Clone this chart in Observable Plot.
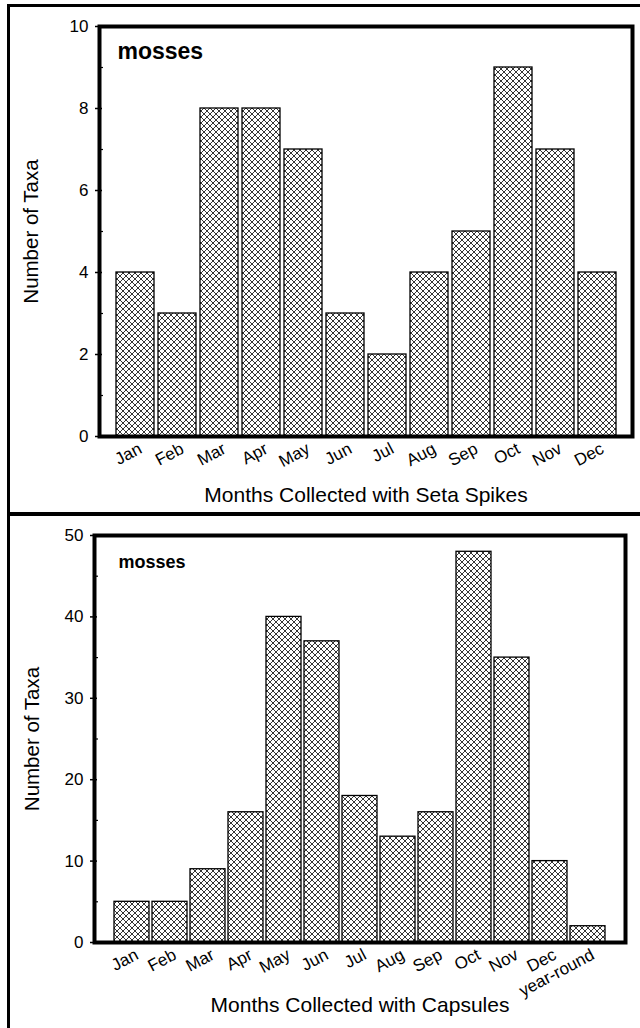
<!DOCTYPE html>
<html>
<head>
<meta charset="utf-8">
<script src="https://cdn.jsdelivr.net/npm/d3@7"></script>
<script src="https://cdn.jsdelivr.net/npm/@observablehq/plot@0.6"></script>
<style>
  html, body { margin: 0; padding: 0; background: #fff; }
  #page { position: relative; width: 640px; height: 1028px; overflow: hidden; background: #fff;
          font-family: "Liberation Sans", Arial, Helvetica, sans-serif; }
  .chart { position: absolute; left: 0; }
  .line { position: absolute; background: #000; }
</style>
</head>
<body>
<div id="page">
  <div id="top" class="chart" style="top:0"></div>
  <div id="bottom" class="chart" style="top:514px"></div>
  <div class="line" style="left:7px; top:4px; width:633px; height:3px"></div>
  <div class="line" style="left:7px; top:4px; width:3px; height:1024px"></div>
  <div class="line" style="left:7px; top:512px; width:633px; height:4px"></div>
</div>
<script>
// ---- data ----
const monthsTop = ["Jan", "Feb", "Mar", "Apr", "May", "Jun", "Jul", "Aug", "Sep", "Oct", "Nov", "Dec"];
const taxaTop = [4, 3, 8, 8, 7, 3, 2, 4, 5, 9, 7, 4];
const yTicksTop = [0, 2, 4, 6, 8, 10];
const yMinorTop = [1, 3, 5, 7, 9];

const categoriesBottom = ["Jan", "Feb", "Mar", "Apr", "May", "Jun", "Jul", "Aug", "Sep", "Oct", "Nov", "Dec", "year-round"];
const taxaBottom = [5, 5, 9, 16, 40, 37, 18, 13, 16, 48, 35, 10, 2];
const yTicksBottom = [0, 10, 20, 30, 40, 50];
const yMinorBottom = [5, 15, 25, 35, 45];

const groupLabel = "mosses";
const yTitle = "Number of Taxa";
const xTitleTop = "Months Collected with Seta Spikes";
const xTitleBottom = "Months Collected with Capsules";

const FONT = '"Liberation Sans", Arial, Helvetica, sans-serif';

function addPattern(svg, id) {
  const defs = d3.select(svg).insert("defs", ":first-child");
  const p = defs.append("pattern")
    .attr("id", id)
    .attr("patternUnits", "userSpaceOnUse")
    .attr("width", 6).attr("height", 6);
  p.append("rect").attr("width", 6).attr("height", 6).attr("fill", "#fff");
  p.append("path")
    .attr("d", "M-1,-1L7,7M7,-1L-1,7")
    .attr("stroke", "#111").attr("stroke-width", 0.85).attr("fill", "none");
}

function makeChart(o) {
  const data = o.cats.map((c, i) => ({cat: c, value: o.vals[i]}));
  const svg = Plot.plot({
    width: 640,
    height: 514,
    marginLeft: o.ml, marginRight: o.mr, marginTop: o.mt, marginBottom: o.mb,
    style: {fontFamily: FONT, color: "#000", background: "transparent", overflow: "visible"},
    x: {domain: o.cats, paddingInner: o.pi, paddingOuter: o.po, insetLeft: o.il, insetRight: o.ir, axis: null},
    y: {domain: [0, o.yMax], axis: null},
    marks: [
      Plot.barY(data, {x: "cat", y: "value", fill: `url(#${o.pid})`, stroke: "#000", strokeWidth: 1.3}),
      Plot.frame({stroke: "#000", strokeWidth: 4}),
      Plot.axisY({ticks: o.majors, tickSize: 7, dx: 3, tickPadding: 7, fontSize: 17, label: null, tickFormat: d => String(d), strokeWidth: 1.5}),
      Plot.axisY({ticks: o.minors, tickSize: 4, dx: 4, label: null, tickFormat: () => "", strokeWidth: 1.2}),
      Plot.text(o.cats, {x: d => d, frameAnchor: "bottom", lineAnchor: "middle", textAnchor: "end", rotate: -28, dx: 5, dy: 11, fontSize: 17}),
      Plot.text([o.xTitle], {frameAnchor: "bottom", lineAnchor: "middle", textAnchor: "middle", dy: o.xtdy, fontSize: 21}),
      Plot.text([yTitle], {frameAnchor: "left", lineAnchor: "middle", textAnchor: "middle", rotate: -90, dx: o.ytdx, fontSize: 20.5}),
      Plot.text([groupLabel], {frameAnchor: "top-left", lineAnchor: "middle", textAnchor: "start", dx: o.gdx, dy: o.gdy, fontSize: o.gfs, fontWeight: "bold"})
    ]
  });
  addPattern(svg, o.pid);
  return svg;
}

document.getElementById("top").appendChild(makeChart({
  cats: monthsTop, vals: taxaTop, yMax: 10, majors: yTicksTop, minors: yMinorTop,
  ml: 99, mr: 8, mt: 26, mb: 78, pi: 0.1, po: 0.05, il: 15, ir: 14,
  xTitle: xTitleTop, xtdy: 59, ytdx: -68, gdx: 18, gdy: 25, gfs: 23, pid: "hatchTop"
}));

document.getElementById("bottom").appendChild(makeChart({
  cats: categoriesBottom, vals: taxaBottom, yMax: 50, majors: yTicksBottom, minors: yMinorBottom,
  ml: 94, mr: 15, mt: 21, mb: 86, pi: 0.09, po: 0.05, il: 16, ir: 17,
  xTitle: xTitleBottom, xtdy: 63, ytdx: -62, gdx: 24, gdy: 27, gfs: 18, pid: "hatchBottom"
}));
</script>
</body>
</html>
